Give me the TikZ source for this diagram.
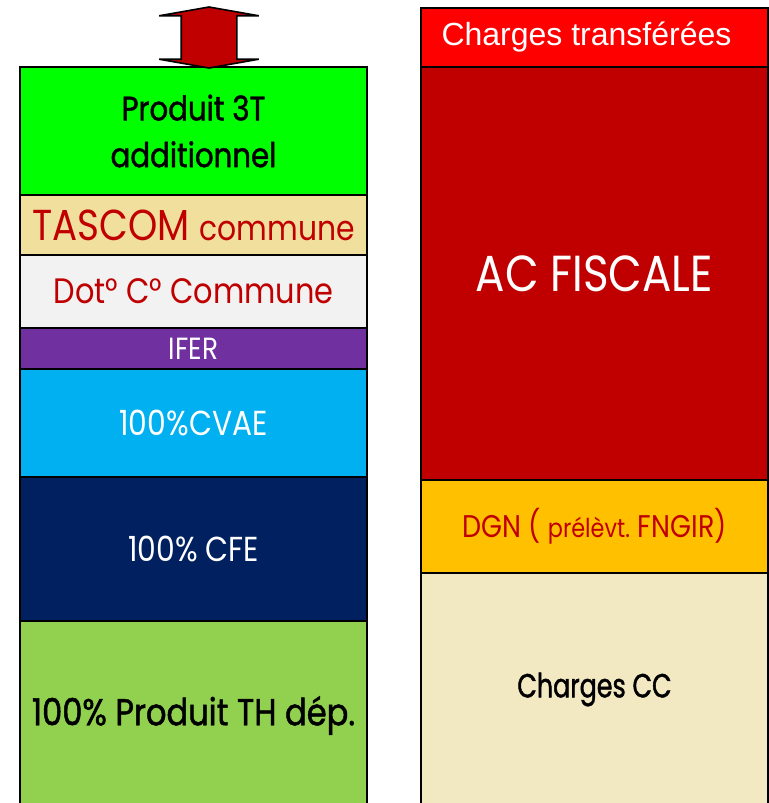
\documentclass[tikz,border=0pt]{standalone}
\usepackage{fontspec}
\setmainfont{Poppins}[FakeStretch=0.86]
\newfontfamily\epais{Poppins}[FakeStretch=0.86, FakeBold=1.3]
\newfontfamily\etroit{Poppins}[FakeStretch=0.76, FakeBold=1.3]
\newfontfamily\arialfont{Liberation Sans}
\usetikzlibrary{positioning, shapes.arrows}
\definecolor{VertVif}{HTML}{00FF00}
\definecolor{Sable}{HTML}{F0DF9D}
\definecolor{GrisClair}{HTML}{F2F2F2}
\definecolor{Violet}{HTML}{7030A0}
\definecolor{BleuCiel}{HTML}{00B0F0}
\definecolor{BleuNuit}{HTML}{002060}
\definecolor{VertPomme}{HTML}{92D050}
\definecolor{RougeVif}{HTML}{FF0000}
\definecolor{RougeFonce}{HTML}{C00000}
\definecolor{Ambre}{HTML}{FFC000}
\definecolor{Creme}{HTML}{F2E9C3}
\tikzset{
    % blocs des deux colonnes
    bloc/.style={
        rectangle,
        draw=black,
        line width=1.5pt,
        minimum width=260.25pt,
        inner sep=0pt,
        outer sep=0pt,
        align=center
    },
    % fleche double au-dessus de la colonne
    fleche/.style={
        double arrow,
        draw=black,
        fill=RougeFonce,
        line width=1.2pt,
        rotate=90,
        inner xsep=0pt,
        inner ysep=20.25pt,
        minimum height=45.75pt,
        double arrow head extend=16.5pt,
        double arrow tip angle=160
    }
}

\begin{document}
\begin{tikzpicture}[x=0.75pt, y=-0.75pt]
    \useasboundingbox (0,0) rectangle (768,803);

    % colonne gauche
    \node[bloc, fill=VertVif, minimum height=96pt, anchor=north west,
          font=\epais\fontsize{25.5}{35}\selectfont] (produit) at (20,67) {Produit 3T\\additionnel};
    \node[bloc, fill=Sable, minimum height=45pt, below=0pt of produit,
          text=RougeFonce] (tascom) {\fontsize{32.5}{36}\selectfont TASCOM \fontsize{26}{36}\selectfont commune};
    \node[bloc, fill=GrisClair, minimum height=54.75pt, below=0pt of tascom,
          text=RougeFonce, font=\fontsize{26.5}{30}\selectfont] (dotcom) {Dot° C° Commune};
    \node[bloc, fill=Violet, minimum height=30.75pt, below=0pt of dotcom,
          text=white, font=\fontsize{23}{26}\selectfont] (ifer) {IFER};
    \node[bloc, fill=BleuCiel, minimum height=81pt, below=0pt of ifer,
          text=white, font=\fontsize{26}{28}\selectfont] (cvae) {100\%CVAE};
    \node[bloc, fill=BleuNuit, minimum height=108pt, below=0pt of cvae,
          text=white, font=\fontsize{26}{28}\selectfont] (cfe) {100\% CFE};
    \node[bloc, fill=VertPomme, minimum height=141.75pt, below=0pt of cfe,
          font=\epais\fontsize{28}{30}\selectfont] (thdep) {100\% Produit TH dép.};

    \node[fleche] (vers) at (209,37.5) {};

    % colonne droite
    \node[bloc, fill=RougeVif, minimum height=44.25pt, anchor=north west,
          text=white, font=\arialfont\fontsize{24}{28}\selectfont] (transf) at (421,8) {Charges transférées\hspace{12pt}};
    \node[bloc, fill=RougeFonce, minimum height=309.75pt, below=0pt of transf,
          text=white, font=\fontsize{38}{42}\selectfont] (acfisc) {AC FISCALE};
    \node[bloc, fill=Ambre, minimum height=69.75pt, below=0pt of acfisc,
          text=RougeFonce] (dgn) {\fontsize{23.5}{28}\selectfont DGN ( \fontsize{19.5}{28}\selectfont prélèvt. \fontsize{23.5}{28}\selectfont FNGIR)};
    \node[bloc, fill=Creme, minimum height=174.75pt, below=0pt of dgn,
          font=\etroit\fontsize{25}{28}\selectfont] (chargescc) {Charges CC};
\end{tikzpicture}
\end{document}
